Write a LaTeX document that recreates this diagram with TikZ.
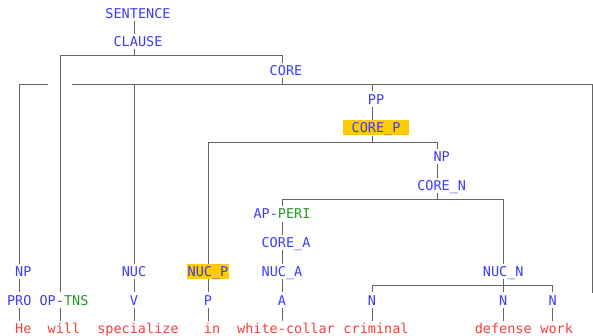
\documentclass[tikz,border=0pt]{standalone}
\usepackage{fontspec}
\setmonofont{DejaVu Sans Mono}
\usepackage{xcolor}
\definecolor{lblblue}{RGB}{60,60,250}
\definecolor{lblgreen}{RGB}{40,150,40}
\definecolor{wordred}{RGB}{250,60,60}
\definecolor{hlyellow}{RGB}{255,204,0}
\definecolor{treegray}{RGB}{100,100,100}

\begin{document}
\begin{tikzpicture}[
    x=1pt, y=-1pt,
    lbl/.style={font=\ttfamily\fontsize{13.5}{14}\selectfont, text=lblblue, anchor=base, inner xsep=0.5pt, inner ysep=2.5pt, text height=10pt, text depth=0pt},
    word/.style={lbl, text=wordred},
    hl/.style={fill=hlyellow},
    tree/.style={draw=treegray, line width=0.9pt}
]
    \useasboundingbox (0,0) rectangle (593,335);

    % Upper spine
    \node[lbl] (sent) at (138,18) {SENTENCE};
    \node[lbl] (clause) at (138,46.7) {CLAUSE};
    \node[lbl] (core) at (286,75.4) {CORE};
    \node[lbl] (pp) at (376,104.1) {PP};
    \node[lbl, hl, inner xsep=9pt] (corep) at (376,132.8) {CORE\_P};
    \node[lbl] (np2) at (441.7,161.5) {NP};
    \node[lbl] (coren) at (441.7,190.2) {CORE\_N};
    \node[lbl] (apperi) at (282,218.9) {AP-\textcolor{lblgreen}{PERI}};
    \node[lbl] (corea) at (286,247.6) {CORE\_A};

    % Nucleus row
    \node[lbl] (np) at (23.3,276.3) {NP};
    \node[lbl] (nuc) at (134,276.3) {NUC};
    \node[lbl, hl] (nucp) at (208,276.3) {NUC\_P};
    \node[lbl] (nuca) at (282,276.3) {NUC\_A};
    \node[lbl] (nucn) at (503.3,276.3) {NUC\_N};

    % Category row
    \node[lbl] (pro) at (19.3,305) {PRO};
    \node[lbl] (optns) at (64,305) {OP-\textcolor{lblgreen}{TNS}};
    \node[lbl] (v) at (134,305) {V};
    \node[lbl] (p) at (208,305) {P};
    \node[lbl] (a) at (282,305) {A};
    \node[lbl] (n1) at (372,305) {N};
    \node[lbl] (n2) at (503.3,305) {N};
    \node[lbl] (n3) at (552.7,305) {N};
    \coordinate (offcore) at (592.8,292.5);

    % Words
    \node[word] (he) at (23.3,333.7) {He};
    \node[word] (will) at (64,333.7) {will};
    \node[word] (spec) at (138,333.7) {specialize};
    \node[word] (in) at (212,333.7) {in};
    \node[word] (wc) at (286,333.7) {white-collar};
    \node[word] (crim) at (376,333.7) {criminal};
    \node[word] (def) at (503.3,333.7) {defense};
    \node[word] (work) at (556.7,333.7) {work};

    % Clause level
    \draw[tree] ([xshift=-4pt]sent.south) -- ([xshift=-4pt]clause.north);
    \draw[tree] ([xshift=-4pt]clause.south) -- ++(0,6.5) coordinate (clbar) -| ([xshift=-4pt]core.north);
    \draw[tree] (clbar) -| ([xshift=-4pt]optns.north);

    % Core level, broken where the operator line crosses
    \draw[tree] ([xshift=-4pt]core.south) -- ++(0,6.5) coordinate (cobar) -| ([xshift=-4pt]pp.north);
    \draw[tree] (cobar) -| (nuc.north);
    \draw[tree] (cobar -| nuc.north) -- ([xshift=8pt]cobar -| optns.north);
    \draw[tree] ([xshift=-16pt]cobar -| optns.north) -| ([xshift=-4pt]np.north);
    \draw[tree] (cobar) -| (offcore);

    % Prepositional phrase
    \draw[tree] ([xshift=-4pt]pp.south) -- ([xshift=-4pt]corep.north);
    \draw[tree] ([xshift=-4pt]corep.south) -- ++(0,6.5) coordinate (cpbar) -| (nucp.north);
    \draw[tree] (cpbar) -| ([xshift=-4pt]np2.north);
    \draw[tree] ([xshift=-4pt]np2.south) -- ([xshift=-4pt]coren.north);
    \draw[tree] ([xshift=-4pt]coren.south) -- ++(0,6.5) coordinate (cnbar) -| (apperi.north);
    \draw[tree] (cnbar) -| (nucn.north);
    \draw[tree] (apperi.south) -- ([xshift=-4pt]corea.north);
    \draw[tree] ([xshift=-4pt]corea.south) -- (nuca.north);
    \draw[tree] (nuca.south) -- (a.north);
    \draw[tree] (nucn.south) -- ++(0,6.5) coordinate (nnbar) -| (n1.north);
    \draw[tree] (nnbar) -| (n3.north);
    \draw[tree] (nucn.south) -- (n2.north);

    % Down to the words
    \draw[tree] ([xshift=-4pt]np.south) -- (pro.north);
    \draw[tree] (pro.south) -- ([xshift=-4pt]he.north);
    \draw[tree] ([xshift=-4pt]optns.south) -- ([xshift=-4pt]will.north);
    \draw[tree] (nuc.south) -- (v.north);
    \draw[tree] (v.south) -- ([xshift=-4pt]spec.north);
    \draw[tree] (nucp.south) -- (p.north);
    \draw[tree] (p.south) -- ([xshift=-4pt]in.north);
    \draw[tree] (a.south) -- ([xshift=-4pt]wc.north);
    \draw[tree] (n1.south) -- ([xshift=-4pt]crim.north);
    \draw[tree] (n2.south) -- (def.north);
    \draw[tree] (n3.south) -- ([xshift=-4pt]work.north);
\end{tikzpicture}
\end{document}
